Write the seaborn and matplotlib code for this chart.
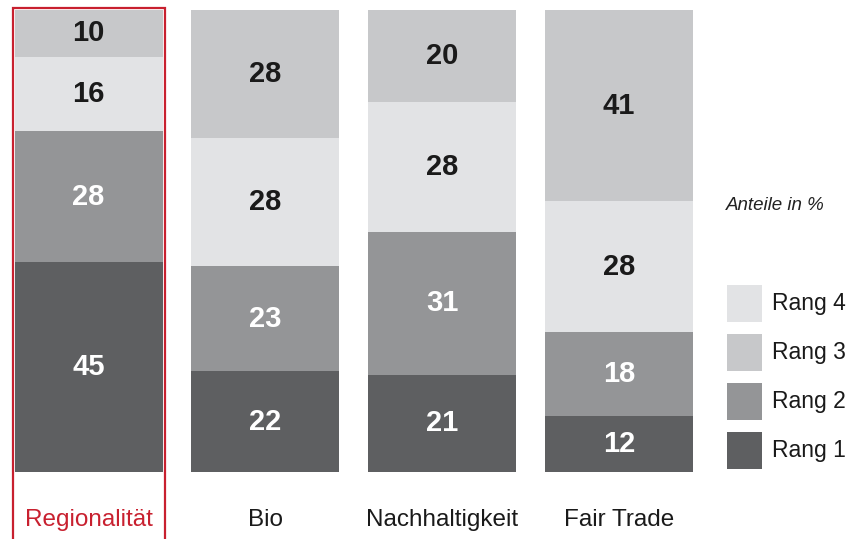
import matplotlib
matplotlib.use("Agg")
import matplotlib.pyplot as plt
import matplotlib.patches as mpatches
import seaborn as sns
import pandas as pd
import numpy as np

# ---- data ----
categories = ["Regionalität", "Bio", "Nachhaltigkeit", "Fair Trade"]
rang1 = [45, 22, 21, 12]
rang2 = [28, 23, 31, 18]
rang3 = [10, 28, 20, 41]
rang4 = [16, 28, 28, 28]
legend_labels = ["Rang 4", "Rang 3", "Rang 2", "Rang 1"]
note = "Anteile in %"

colors = {"Rang 1": "#5e5f61", "Rang 2": "#949597", "Rang 3": "#c7c8ca", "Rang 4": "#e2e3e5"}
red = "#c8202f"

sns.set_theme(style="white")
plt.rcParams["font.family"] = ["Liberation Sans", "DejaVu Sans"]

df = pd.DataFrame({"cat": categories, "Rang 1": rang1, "Rang 2": rang2,
                   "Rang 3": rang3, "Rang 4": rang4})
# stacking order bottom -> top
stack_order = ["Rang 1", "Rang 2", "Rang 4", "Rang 3"]
totals = df[stack_order].sum(axis=1)
norm = df[stack_order].div(totals, axis=0) * 100
cum = norm.cumsum(axis=1)

fig = plt.figure(figsize=(8.52, 5.39), dpi=100)
ax = fig.add_axes([0, 0, 1, 1])

bw = 0.837
# draw cumulative bars from top segment down (overlap technique)
for key in reversed(stack_order):
    d = pd.DataFrame({"cat": df["cat"], "val": cum[key]})
    sns.barplot(data=d, x="cat", y="val", order=categories, color=colors[key],
                saturation=1, width=bw, linewidth=0, edgecolor="none", ax=ax)

# segment value labels
for i in range(len(categories)):
    for key in stack_order:
        top = cum[key].iloc[i]
        h = norm[key].iloc[i]
        val = df[key].iloc[i]
        tc = "white" if key in ("Rang 1", "Rang 2") else "#1a1a1a"
        ax.text(i, top - h / 2, str(val), ha="center", va="center",
                fontsize=21, fontweight="bold", color=tc)

ax.set_xlim(-0.5006, 4.318)
ax.set_ylim(-14.5, 102.16)
ax.axis("off")

# category labels
for i, c in enumerate(categories):
    ax.text(i, -10.4, c, ha="center", va="center", fontsize=17.5,
            color=red if i == 0 else "#1a1a1a")

# red highlight frame around first category
frame = mpatches.Rectangle((-0.428, -30), 0.862, 130.45, fill=False,
                           edgecolor=red, linewidth=1.6, clip_on=False)
ax.add_patch(frame)

# note
fig.text(726 / 852, 1 - 205 / 539, note, fontsize=13.5, fontstyle="italic",
         color="#222222", va="center", ha="left")

# legend (drawn in figure pixel fractions)
W, H = 852, 539
x0, pw, ph, step, top0 = 727, 35, 37, 49, 285
for j, lab in enumerate(legend_labels):
    y_top = top0 + j * step
    fig.patches.append(mpatches.Rectangle((x0 / W, 1 - (y_top + ph) / H), pw / W, ph / H,
                                          transform=fig.transFigure, facecolor=colors[lab],
                                          edgecolor="none", figure=fig))
    fig.text(772 / W, 1 - (y_top + ph / 2) / H, lab, fontsize=16.5,
             color="#1a1a1a", va="center", ha="left")

fig.savefig("out.png", dpi=100, facecolor="white")
